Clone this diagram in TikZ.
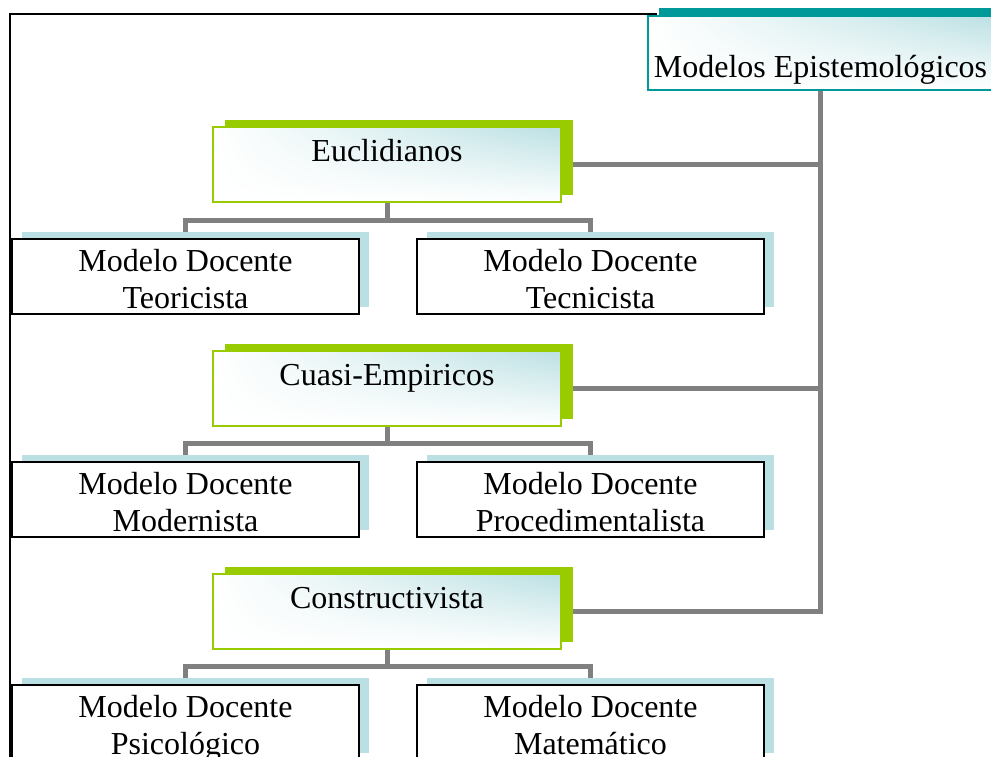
\documentclass[tikz,border=0pt]{standalone}
\usepackage{fontspec}
\setmainfont{Liberation Serif}
\usetikzlibrary{shadows,shadings}
\pgfdeclarelayer{background}
\pgfsetlayers{background,main}

\definecolor{tealc}{HTML}{009999}
\definecolor{limec}{HTML}{99CC00}
\definecolor{iceblue}{HTML}{BBE0E3}
\definecolor{linkgray}{HTML}{808080}

\begin{document}
\begin{tikzpicture}[x=1pt, y=-1pt,
  every node/.style={font=\fontsize{32}{37}\selectfont, text=black},
  glassfill/.style={upper right=iceblue, upper left=white, lower left=white, lower right=white},
  rootbox/.style={draw=tealc, line width=1.2pt, inner sep=0pt,
    minimum width=345pt, minimum height=74pt, text height=62pt, text depth=12pt,
    glassfill, general shadow={fill=tealc, shadow xshift=11pt, shadow yshift=8pt}},
  familybox/.style={draw=limec, line width=2pt, inner sep=0pt,
    minimum width=348pt, minimum height=75pt, text height=35pt, text depth=40pt,
    glassfill, general shadow={fill=limec, shadow xshift=12pt, shadow yshift=7pt}},
  modelbox/.style={draw=black, line width=1.6pt, fill=white, inner sep=0pt,
    minimum width=347pt, minimum height=75pt,
    general shadow={fill=iceblue, shadow xshift=10pt, shadow yshift=7pt}},
  link/.style={draw=linkgray, line width=5pt},
  frame/.style={draw=black, line width=2pt}]

% two centred lines on fixed baselines, 37pt apart
\newcommand{\twolines}[2]{\vbox to 75pt{\vskip 5pt\hbox to 347pt{\hss\vphantom{Ág}#1\hss}\vskip 0pt\hbox to 347pt{\hss\vphantom{Ág}#2\hss}\vss}}

\useasboundingbox (0,0) rectangle (991,757);
\clip (0,0) rectangle (991,757);

% outer frame
\coordinate (fbot) at (10,757);
\coordinate (fcorner) at (10,14);
\coordinate (fend) at (657,14);
\draw[frame] (fbot) -- (fcorner) -- (fend);

% root
\node[rootbox] (root) at (820.5,53) {Modelos Epistemológicos};

% families
\node[familybox] (euc) at (387,164.5) {Euclidianos};
\node[familybox] (cua) at (387,388) {Cuasi-Empiricos};
\node[familybox] (con) at (387,611) {Constructivista};

% teacher models
\node[modelbox] (teo) at (185.5,276.5) {\twolines{Modelo Docente}{Teoricista}};
\node[modelbox] (tec) at (590.5,276.5) {\twolines{Modelo Docente}{Tecnicista}};
\node[modelbox] (mod) at (185.5,499.5) {\twolines{Modelo Docente}{Modernista}};
\node[modelbox] (pro) at (590.5,499.5) {\twolines{Modelo Docente}{Procedimentalista}};
\node[modelbox] (psi) at (185.5,722.5) {\twolines{Modelo Docente}{Psicológico}};
\node[modelbox] (mat) at (590.5,722.5) {\twolines{Modelo Docente}{Matemático}};

\begin{pgfonlayer}{background}
  % trunk from the root to each family
  \draw[link] (root.south) |- (euc.east);
  \draw[link] (root.south) |- (cua.east);
  \draw[link] (root.south) |- (con.east);
  % family to its two models
  \draw[link] (euc.south) -- ++(0,17) coordinate (j1);
  \draw[link] (j1) -| (teo.north);
  \draw[link] (j1) -| (tec.north);
  \draw[link] (cua.south) -- ++(0,17) coordinate (j2);
  \draw[link] (j2) -| (mod.north);
  \draw[link] (j2) -| (pro.north);
  \draw[link] (con.south) -- ++(0,17) coordinate (j3);
  \draw[link] (j3) -| (psi.north);
  \draw[link] (j3) -| (mat.north);
\end{pgfonlayer}
\end{tikzpicture}
\end{document}
